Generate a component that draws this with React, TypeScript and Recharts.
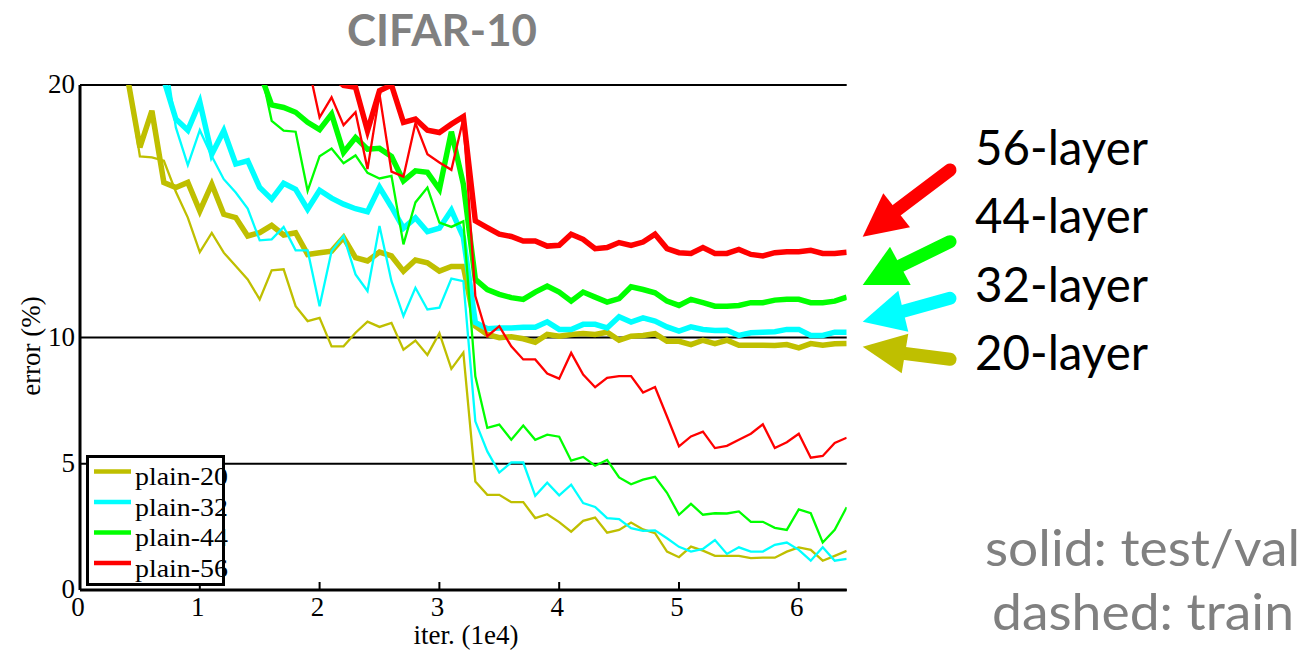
import React from "react";
import { LineChart, Line, XAxis, YAxis, CartesianGrid, Legend, Label } from "recharts";

// iterations (1e4)
const iterations = [
  0.4, 0.5, 0.6, 0.7, 0.8, 0.9, 1.0, 1.1, 1.2, 1.3, 1.4, 1.5, 1.6, 1.7, 1.8, 1.9,
  2.0, 2.1, 2.2, 2.3, 2.4, 2.5, 2.6, 2.7, 2.8, 2.9, 3.0, 3.1, 3.2, 3.3, 3.4, 3.5,
  3.6, 3.7, 3.8, 3.9, 4.0, 4.1, 4.2, 4.3, 4.4, 4.5, 4.6, 4.7, 4.8, 4.9, 5.0, 5.1,
  5.2, 5.3, 5.4, 5.5, 5.6, 5.7, 5.8, 5.9, 6.0, 6.1, 6.2, 6.3, 6.4,
];

// error (%) — thick = test, thin = train
const plain20Test = [
  20.2, 17.53, 18.98, 16.14, 15.94, 16.14, 15.01, 16.07, 14.88, 14.75, 14.02, 14.15, 14.44, 14.06, 14.15, 13.29,
  13.36, 13.42, 13.96, 13.16, 13.03, 13.38, 13.23, 12.63, 13.07, 12.96, 12.63, 12.81, 12.81, 10.45, 10.12, 9.99,
  10.03, 9.95, 9.81, 10.12, 10.05, 10.12, 10.16, 10.12, 10.21, 9.89, 10.05, 10.08, 10.15, 9.85, 9.85, 9.72,
  9.89, 9.76, 9.89, 9.69, 9.69, 9.69, 9.68, 9.72, 9.59, 9.76, 9.69, 9.75, 9.76,
];
const plain20Train = [
  20.2, 17.17, 17.13, 17.0, 15.77, 14.75, 13.38, 14.14, 13.36, 12.83, 12.3, 11.51, 12.66, 12.7, 11.24, 10.65,
  10.78, 9.65, 9.65, 10.19, 10.63, 10.42, 10.58, 9.52, 9.88, 9.31, 10.17, 8.76, 9.4, 4.3, 3.77, 3.77,
  3.48, 3.48, 2.85, 3.0, 2.69, 2.31, 2.74, 2.87, 2.27, 2.38, 2.67, 2.4, 2.25, 1.52, 1.3, 1.72,
  1.56, 1.35, 1.35, 1.35, 1.26, 1.28, 1.28, 1.52, 1.69, 1.59, 1.16, 1.35, 1.55,
];
const plain32Test = [
  null, null, null, 20.2, 18.65, 18.21, 19.33, 17.26, 18.19, 16.87, 17.0, 15.94, 15.48, 16.11, 15.87, 15.08,
  15.83, 15.52, 15.28, 15.1, 14.98, 15.95, 15.17, 14.33, 14.74, 14.19, 14.33, 15.04, 13.97, 10.6, 10.35, 10.38,
  10.38, 10.41, 10.41, 10.62, 10.32, 10.32, 10.52, 10.52, 10.38, 10.82, 10.61, 10.78, 10.65, 10.42, 10.25, 10.42,
  10.32, 10.28, 10.29, 10.08, 10.19, 10.21, 10.23, 10.32, 10.32, 10.08, 10.08, 10.21, 10.21,
];
const plain32Train = [
  null, null, null, 21.5, 18.32, 16.83, 18.21, 17.18, 16.27, 15.74, 15.11, 13.85, 13.89, 14.38, 13.45, 13.45,
  11.24, 13.42, 14.02, 12.5, 11.84, 14.42, 12.23, 10.85, 11.97, 11.11, 11.18, 12.33, 12.23, 6.68, 5.49, 4.65,
  5.05, 5.05, 3.73, 4.25, 3.75, 4.17, 3.44, 3.29, 2.85, 2.81, 2.45, 2.34, 2.36, 2.05, 1.71, 1.52,
  1.63, 1.98, 1.43, 1.69, 1.52, 1.52, 1.79, 1.88, 1.59, 1.16, 1.69, 1.16, 1.23,
];
const plain44Test = [
  null, null, null, null, null, null, null, null, null, null, null, 20.5, 19.21, 19.11, 18.92, 18.52,
  18.23, 18.85, 17.33, 17.92, 17.46, 17.49, 17.17, 16.2, 16.6, 16.54, 15.87, 18.15, 16.07, 12.3, 11.9, 11.71,
  11.58, 11.51, 11.8, 12.04, 11.8, 11.44, 11.8, 11.6, 11.4, 11.54, 12.01, 11.9, 11.77, 11.44, 11.27, 11.51,
  11.38, 11.24, 11.24, 11.27, 11.38, 11.38, 11.48, 11.51, 11.51, 11.38, 11.38, 11.44, 11.6,
];
const plain44Train = [
  null, null, null, null, null, null, null, null, null, null, null, 20.8, 18.58, 18.19, 18.15, 15.81,
  17.18, 17.48, 16.9, 17.21, 16.52, 16.3, 16.4, 13.69, 15.35, 15.94, 14.55, 14.38, 14.6, 8.46, 6.42, 6.55,
  5.95, 6.51, 5.95, 6.15, 6.07, 5.12, 5.27, 4.92, 5.15, 4.46, 4.19, 4.37, 4.48, 3.85, 2.98, 3.41,
  2.98, 3.04, 3.03, 3.11, 2.7, 2.7, 2.46, 2.38, 3.19, 3.04, 1.88, 2.38, 3.28,
];
const plain56Test = [
  null, null, null, null, null, null, null, null, null, null, null, null, null, null, null, null,
  null, 20.4, 19.98, 19.91, 18.19, 19.77, 20.0, 18.52, 18.65, 18.21, 18.12, 18.45, 18.75, 14.62, 14.35, 14.09,
  14.0, 13.82, 13.82, 13.62, 13.65, 14.09, 13.89, 13.52, 13.56, 13.76, 13.65, 13.78, 14.09, 13.52, 13.36, 13.33,
  13.56, 13.33, 13.33, 13.49, 13.29, 13.23, 13.36, 13.4, 13.4, 13.45, 13.33, 13.33, 13.38,
];
const plain56Train = [
  null, null, null, null, null, null, null, null, null, null, null, null, null, null, null, 20.9,
  18.72, 19.51, 18.41, 18.92, 16.67, 19.64, 16.57, 16.37, 18.49, 17.26, 16.93, 16.64, 18.66, 11.64, 10.05, 10.45,
  9.65, 9.13, 9.13, 8.57, 8.37, 9.39, 8.53, 8.03, 8.4, 8.47, 8.47, 7.82, 8.04, 6.87, 5.69, 6.08,
  6.27, 5.62, 5.71, 5.95, 6.19, 6.56, 5.62, 5.85, 6.19, 5.24, 5.31, 5.82, 6.03,
];

const xTicks = [0, 1, 2, 3, 4, 5, 6];
const yTicks = [0, 5, 10, 20];
const legendNames = ["plain-20", "plain-32", "plain-44", "plain-56"];
const layerNames = ["56-layer", "44-layer", "32-layer", "20-layer"];

const OLIVE = "#bfbf00";
const CYAN = "#00ffff";
const GREEN = "#00ff00";
const RED = "#ff0000";
const legendColors = [OLIVE, CYAN, GREEN, RED];

const data = iterations.map((it, i) => ({
  it,
  p20test: plain20Test[i],
  p20train: plain20Train[i],
  p32test: plain32Test[i],
  p32train: plain32Train[i],
  p44test: plain44Test[i],
  p44train: plain44Train[i],
  p56test: plain56Test[i],
  p56train: plain56Train[i],
}));

const series = [
  { key: "p20train", color: OLIVE, width: 2.3 },
  { key: "p20test", color: OLIVE, width: 5.5 },
  { key: "p32train", color: CYAN, width: 2.3 },
  { key: "p32test", color: CYAN, width: 5.5 },
  { key: "p44train", color: GREEN, width: 2.3 },
  { key: "p44test", color: GREEN, width: 5.5 },
  { key: "p56train", color: RED, width: 2.3 },
  { key: "p56test", color: RED, width: 5.5 },
];

const SERIF = "'Liberation Serif', 'DejaVu Serif', serif";
const SANS = "Lato, 'Open Sans', sans-serif";

function XTick({ x, y, payload }: any) {
  return (
    <g>
      <line x1={x} x2={x} y1={y} y2={y - 8} stroke="#000" strokeWidth={2} />
      <text x={x - 2} y={y + 26} textAnchor="middle" fontFamily={SERIF} fontSize={27} fill="#000">
        {payload.value}
      </text>
    </g>
  );
}

function YTick({ x, y, payload }: any) {
  return (
    <text x={x - 5} y={y} dy="0.3em" textAnchor="end" fontFamily={SERIF} fontSize={27} fill="#000">
      {payload.value}
    </text>
  );
}

function PlainLegend() {
  return (
    <svg width={160} height={135} style={{ overflow: "visible", display: "block" }}>
      <rect x={1.5} y={1.5} width={136} height={128} fill="#fff" />
      {legendNames.map((name, i) => (
        <g key={name}>
          <line x1={8} x2={45} y1={16.5 + i * 30.5} y2={16.5 + i * 30.5} stroke={legendColors[i]} strokeWidth={4.5} />
          <text
            x={49}
            y={30 + i * 30.5}
            fontFamily={SERIF}
            fontSize={26}
            fill="#000"
            textLength={93}
            lengthAdjust="spacingAndGlyphs"
          >
            {name}
          </text>
        </g>
      ))}
      <rect x={1.5} y={1.5} width={136} height={128} fill="none" stroke="#000" strokeWidth={3} />
    </svg>
  );
}

// arrow: tail, tip, two head corners
const arrows = [
  { color: RED, tail: [950, 170], tip: [862.7, 236.7], a: [883.3, 193.3], b: [910, 227.3] },
  { color: GREEN, tail: [950, 241.7], tip: [862.7, 285], a: [890, 246.7], b: [910.7, 285] },
  { color: CYAN, tail: [950, 298.3], tip: [862.7, 321.7], a: [898.3, 290.7], b: [908.3, 331.7] },
  { color: OLIVE, tail: [950, 359.3], tip: [862.7, 346.7], a: [908.3, 333.7], b: [901.7, 373.3] },
];
const layerBaselines = [165, 233, 302, 370];

export default function App() {
  return (
    <div style={{ position: "absolute", left: 0, top: 0, width: 1307, height: 652, background: "#fff" }}>
      <LineChart
        width={860}
        height={652}
        data={data}
        margin={{ top: 85, right: 13.3, bottom: 0, left: 0 }}
        style={{ position: "absolute", left: 0, top: 0 }}
      >
        <CartesianGrid vertical={false} stroke="#000" strokeWidth={2} />
        <XAxis
          dataKey="it"
          type="number"
          domain={[0, 6.4]}
          ticks={xTicks}
          interval={0}
          allowDataOverflow
          height={62}
          tickSize={0}
          tickMargin={0}
          tickLine={false}
          tick={<XTick />}
          axisLine={{ stroke: "#000", strokeWidth: 3 }}
        >
          <Label
            content={() => (
              <text x={466} y={644} textAnchor="middle" fontFamily={SERIF} fontSize={27} fill="#000">
                iter. (1e4)
              </text>
            )}
          />
        </XAxis>
        <YAxis
          type="number"
          domain={[0, 20]}
          ticks={yTicks}
          interval={0}
          allowDataOverflow
          width={80}
          tickSize={0}
          tickMargin={0}
          tickLine={false}
          tick={<YTick />}
          axisLine={{ stroke: "#000", strokeWidth: 3 }}
        >
          <Label
            content={() => (
              <text
                transform="translate(40,346) rotate(-90)"
                textAnchor="middle"
                fontFamily={SERIF}
                fontSize={27}
                fill="#000"
              >
                error (%)
              </text>
            )}
          />
        </YAxis>
        <Legend
          layout="vertical"
          align="center"
          verticalAlign="middle"
          content={() => <PlainLegend />}
          wrapperStyle={{ left: 86, top: 455, width: 160, height: 135 }}
        />
        {series.map((s) => (
          <Line
            key={s.key}
            dataKey={s.key}
            stroke={s.color}
            strokeWidth={s.width}
            dot={false}
            activeDot={false}
            isAnimationActive={false}
            legendType="none"
          />
        ))}
      </LineChart>
      <svg
        width={1307}
        height={652}
        style={{ position: "absolute", left: 0, top: 0, pointerEvents: "none" }}
      >
        <text
          x={442}
          y={46}
          textAnchor="middle"
          fontFamily={SANS}
          fontWeight={700}
          fontSize={44}
          fill="#808080"
          textLength={190}
          lengthAdjust="spacingAndGlyphs"
        >
          CIFAR-10
        </text>
        {arrows.map((ar, i) => {
          const mx = (ar.a[0] + ar.b[0]) / 2;
          const my = (ar.a[1] + ar.b[1]) / 2;
          return (
            <g key={i}>
              <line x1={ar.tail[0]} y1={ar.tail[1]} x2={mx} y2={my} stroke={ar.color} strokeWidth={13} strokeLinecap="round" />
              <polygon points={`${ar.tip[0]},${ar.tip[1]} ${ar.a[0]},${ar.a[1]} ${ar.b[0]},${ar.b[1]}`} fill={ar.color} />
            </g>
          );
        })}
        {layerNames.map((n, i) => (
          <text
            key={n}
            x={975}
            y={layerBaselines[i]}
            fontFamily={SANS}
            fontSize={48}
            fill="#000"
            textLength={173}
            lengthAdjust="spacingAndGlyphs"
          >
            {n}
          </text>
        ))}
        <text x={985} y={566} fontFamily={SANS} fontSize={50} fill="#808080" textLength={315} lengthAdjust="spacingAndGlyphs">
          solid: test/val
        </text>
        <text x={992} y={630} fontFamily={SANS} fontSize={50} fill="#808080" textLength={302} lengthAdjust="spacingAndGlyphs">
          dashed: train
        </text>
      </svg>
    </div>
  );
}
